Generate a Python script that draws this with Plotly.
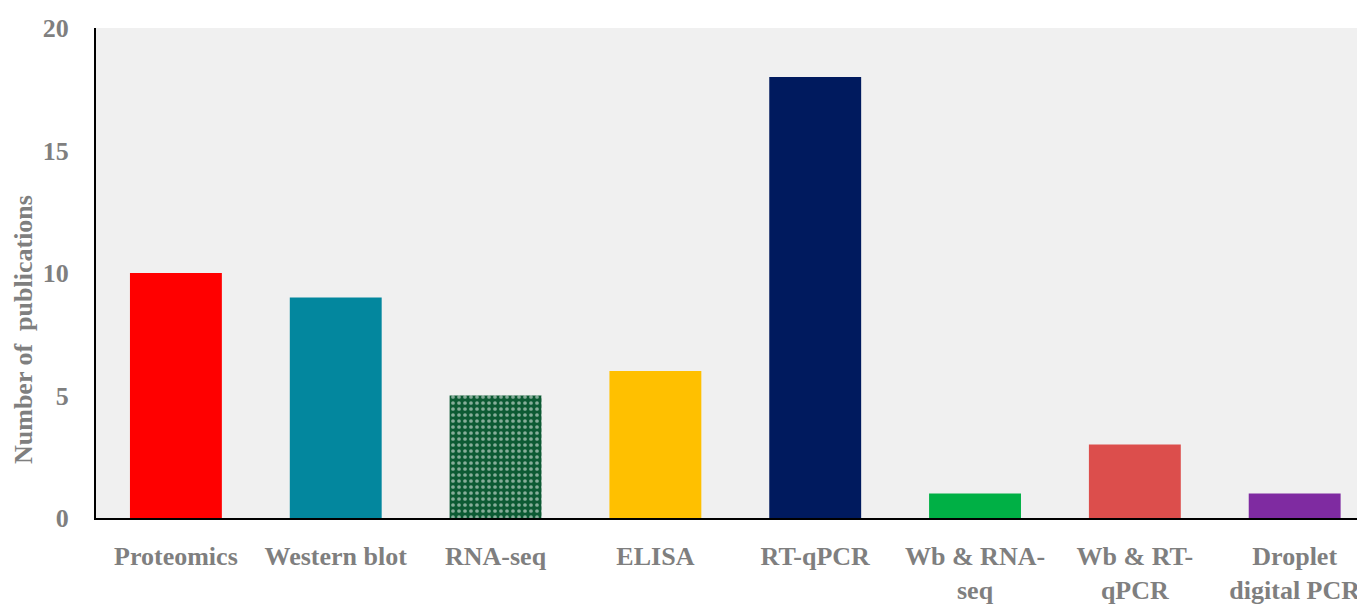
import plotly.graph_objects as go

categories = ["Proteomics", "Western blot", "RNA-seq", "ELISA", "RT-qPCR",
              "Wb & RNA-<br>seq", "Wb & RT-<br>qPCR", "Droplet<br>digital PCR"]
values = [10, 9, 5, 6, 18, 1, 3, 1]
colors = ["#FF0000", "#03879E", "#0C5A33", "#FFC000", "#001A5E",
          "#00B045", "#DC4E4C", "#7F2BA1"]
patterns = ["", "", ".", "", "", "", "", ""]
y_ticks = [0, 5, 10, 15, 20]

# page body has an 8px offset; figure pixel = window pixel - 8
W, H = 1357, 597
L, R, T, B = 88, 0, 20, 87
FONT = "Palatino Linotype, Book Antiqua, Palatino, Liberation Serif, serif"
GRAY = "#7F7F7F"

fig = go.Figure(go.Bar(
    x=list(range(len(categories))), y=values,
    marker=dict(color=colors, line=dict(width=0),
                pattern=dict(shape=patterns, fgcolor="#1B7546", size=6, solidity=0.3)),
    width=0.575,
))

fig.update_layout(
    width=W, height=H,
    margin=dict(l=L, r=R, t=T, b=B, autoexpand=False),
    paper_bgcolor="white", plot_bgcolor="#F0F0F0",
    font=dict(family=FONT, size=26, color=GRAY),
    showlegend=False,
    xaxis=dict(
        tickmode="array", tickvals=list(range(len(categories))), ticktext=categories,
        range=[-0.5, 7.44], showgrid=False, zeroline=False,
        showline=True, linecolor="black", linewidth=2,
        ticks="", ticklabelstandoff=14,
        tickfont=dict(family=FONT, size=26, color=GRAY, weight="bold"),
    ),
    yaxis=dict(
        range=[0, 20], tickvals=y_ticks, showgrid=False, zeroline=False,
        showline=True, linecolor="black", linewidth=2,
        ticks="", ticklabelstandoff=20,
        tickfont=dict(family=FONT, size=26, color=GRAY, weight="bold"),
    ),
    annotations=[dict(
        text="<b>Number of  publications</b>", textangle=-90,
        xref="paper", yref="paper",
        x=(15 - L) / (W - L - R), y=(510 - 322) / (510 - 20),
        xanchor="center", yanchor="middle", showarrow=False,
        font=dict(family=FONT, size=26, color=GRAY),
    )],
)

fig.write_html("out.html")
